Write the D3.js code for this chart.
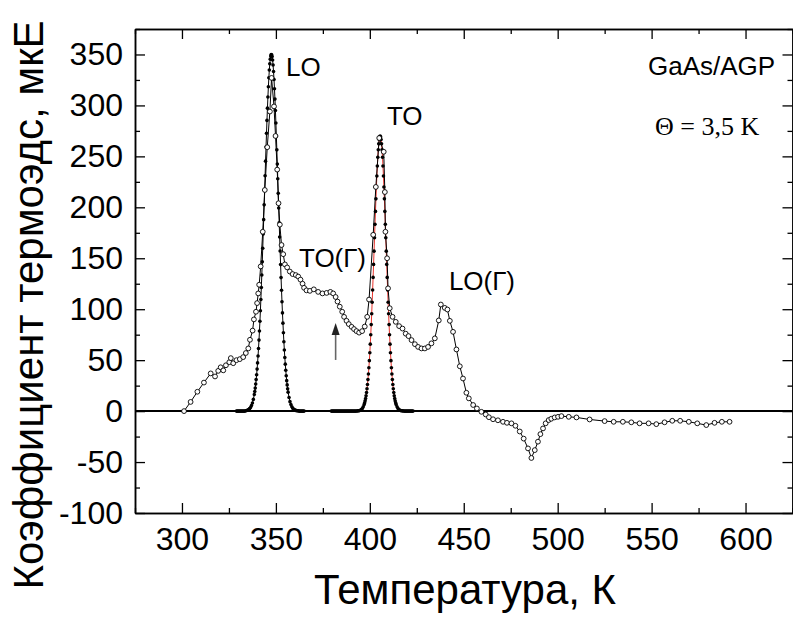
<!DOCTYPE html>
<html><head><meta charset="utf-8">
<script src="https://cdn.jsdelivr.net/npm/d3@7"></script>
<style>body{margin:0;background:#fff}svg{display:block}</style>
</head><body><svg id="c" width="793" height="618"></svg>
<script>
const xTicks=[300,350,400,450,500,550,600];
const xMinor=[275,325,375,425,475,525,575,625];
const yTicks=[-100,-50,0,50,100,150,200,250,300,350];
const yMinor=[-75,-25,25,75,125,175,225,275,325,375];
const xTitle="Температура, К";
const yTitle="Коэффициент термоэдс, мкЕ";

// experimental points (open circles): [T, value]
const expData=[[301.1,0],[304.6,9],[308.2,19],[311.7,28],[315.3,37],[317.6,34],[319.3,39.5],[320.6,43],[322,40],[323.4,45],[325.2,48],[326,52],[327.3,47],[329,50],[330.8,51],[332.6,53],[334,57],[335.3,61.5],[336.2,70],[337.6,79],[338.3,90],[339.4,97.5],[340,106],[340.6,115.5],[341.1,124],[341.9,142],[343,176],[344.1,217],[345.4,259],[346.8,294],[347.7,327],[349,299],[349.8,270],[350.7,237],[351.4,204],[352.1,183],[353,163],[353.9,154],[354.8,144],[356,141],[357.4,137],[358.9,134.5],[360.6,133.5],[361.9,132],[363.1,129],[364.2,125],[365,121],[366.3,118.5],[368.1,118],[370.2,119.5],[372.5,117],[374.8,115.5],[377,116],[379,117],[380.5,115.5],[381.8,112],[382.8,107.5],[384,102.5],[385.3,97.5],[386.3,92.5],[387.6,88.6],[388.8,85.4],[390.3,82.7],[391.6,80.5],[392.9,78.5],[394.3,77],[395.9,78.5],[397.3,83],[398.6,92.5],[399.6,109.5],[401.8,173],[403.2,220],[405,268],[407.4,254.5],[408,215],[408.3,176],[409.2,150],[409.7,120.5],[410.6,101],[412.1,92.5],[413.8,87.6],[415.6,83.4],[417.4,81],[419.1,76],[420.6,73.6],[422.2,69.7],[424,65.7],[425.7,63],[427.5,61.5],[429.3,61.5],[431,63],[432.8,66.5],[434.6,71.4],[436.7,89],[437.8,104.6],[439.9,101.3],[441.3,99.7],[442.6,88.6],[444.3,77.8],[446.1,60.5],[447.9,44],[449.6,32],[451.4,18],[452.7,12.5],[455,6],[457,2.6],[459.4,-0.7],[461.7,-3.3],[463.4,-6],[465.6,-8],[468.2,-9],[470.9,-10.5],[473,-11.5],[475.4,-12],[477.5,-14.4],[479.8,-20],[481.9,-27],[484.2,-36.6],[486,-46],[487.8,-38.3],[489.5,-30],[490.8,-22.6],[492.2,-17],[493.6,-12],[495.2,-8.8],[496.6,-7.5],[498.4,-6.2],[500.2,-5.6],[502,-4.9],[505.9,-5.6],[510,-6.2],[517,-8.2],[525,-9.8],[529.8,-10.5],[534.7,-10.5],[539.2,-11],[543.6,-12],[548.4,-12],[552.5,-12.8],[556.9,-11],[561,-9.5],[565.2,-9.5],[569.8,-10.5],[574.3,-12],[579.1,-13.7],[583.5,-11.5],[587.4,-10.5],[591.5,-10.5]];

// LO peak fit (filled dots)
const loFit=[[329,0],[329.5,0],[330,0],[330.5,0],[331,0],[331.5,0],[332,0],[332.5,0],[333,0],[333.5,0],[334,0.3],[334.5,0.6],[335,1],[335.5,1.6],[336,2.4],[336.5,3.6],[337,5.4],[337.5,8],[338,11.5],[338.5,16.3],[338.75,19.2],[339,22.6],[339.25,26.5],[339.5,30.9],[339.75,35.7],[340,41.2],[340.25,47.3],[340.5,54.1],[340.75,61.5],[341,69.7],[341.25,78.6],[341.5,88.2],[341.75,98.5],[342,109.6],[342.25,121.3],[342.5,133.6],[342.75,146.5],[343,159.9],[343.25,173.8],[343.5,187.9],[343.75,202.4],[344,216.6],[344.25,231],[344.5,245.3],[344.75,259.1],[345,272.6],[345.25,285.3],[345.5,297.3],[345.75,308.3],[346,318.3],[346.25,327.2],[346.5,334.7],[346.75,340.8],[347,345.4],[347.25,348.4],[347.5,349.9],[347.75,349.7],[348,347.9],[348.25,344.6],[348.5,339.7],[348.75,333.3],[349,325.5],[349.25,316.4],[349.5,306.2],[349.75,295],[350,282.8],[350.25,269.9],[350.5,256.4],[350.75,242.4],[351,228.1],[351.25,213.7],[351.5,199.3],[351.75,184.9],[352,170.9],[352.25,157.1],[352.5,143.8],[352.75,131],[353,118.6],[353.25,107.3],[353.5,96.4],[353.75,86.3],[354,76.9],[354.25,68],[354.5,59.9],[354.75,52.6],[355,46.1],[355.25,40.1],[355.5,34.7],[355.75,29.9],[356,25.7],[356.25,21.9],[356.5,18.6],[357,13.3],[357.5,9.3],[358,6.4],[358.5,4.3],[359,2.8],[359.5,1.8],[360,1.2],[360.5,0.7],[361,0.5],[361.5,0.3],[362,0.2],[362.5,0],[363,0],[363.5,0],[364,0],[364.5,0],[365,0]];

// TO peak fit (filled dots + red line)
const toFit=[[379.5,0],[380,0],[380.5,0],[381,0],[381.5,0],[382,0],[382.5,0],[383,0],[383.5,0],[384,0],[384.5,0],[385,0],[385.5,0],[386,0],[386.5,0],[387,0],[387.5,0],[388,0],[388.5,0],[389,0],[389.5,0],[390,0],[390.5,0],[391,0],[391.5,0],[392,0],[392.5,0],[393,0.1],[393.5,0.2],[394,0.3],[394.5,0.5],[395,0.9],[395.5,1.6],[396,2.6],[396.5,4.2],[397,6.6],[397.25,8.2],[397.5,10.1],[397.75,12.4],[398,15.1],[398.25,18.2],[398.5,21.9],[398.75,26.1],[399,30.9],[399.25,36.4],[399.5,42.6],[399.75,49.5],[400,57.2],[400.25,65.7],[400.5,74.9],[400.75,84.9],[401,95.6],[401.25,106.9],[401.5,118.8],[401.75,131.2],[402,144],[402.25,157],[402.5,170.1],[402.75,183.3],[403,196],[403.25,208.3],[403.5,220],[403.75,230.7],[404,240.6],[404.25,249.2],[404.5,256.5],[404.75,262.3],[405,266.6],[405.25,269.1],[405.5,270],[405.75,269.1],[406,266.6],[406.25,262.3],[406.5,256.5],[406.75,249.2],[407,240.6],[407.25,230.7],[407.5,220],[407.75,208.3],[408,196],[408.25,183.3],[408.5,170.1],[408.75,157],[409,144],[409.25,131.2],[409.5,118.8],[409.75,106.9],[410,95.6],[410.25,84.9],[410.5,74.9],[410.75,65.7],[411,57.2],[411.25,49.5],[411.5,42.6],[411.75,36.4],[412,30.9],[412.25,26.1],[412.5,21.9],[412.75,18.2],[413,15.1],[413.25,12.4],[413.5,10.1],[413.75,8.2],[414,6.6],[414.5,4.2],[415,2.6],[415.5,1.6],[416,0.9],[416.5,0.5],[417,0.3],[417.5,0.2],[418,0.1],[418.5,0],[419,0],[419.5,0],[420,0],[420.5,0],[421,0],[421.5,0],[422,0],[422.5,0],[423,0]];

// annotations: [text, T, value]
const peakLabels=[["LO",355.4,328.9],["TO",409.1,280.8],["TO(Г)",362.3,141.4],["LO(Г)",442.1,118.9],["GaAs/AGP",548.1,329.9]];
const thetaLabel=["Θ = 3,5 K",551.8,271];
const arrowAt=[381.8,50.2,86.5];

const svg=d3.select("#c");
const SANS='"Liberation Sans", Arial, sans-serif';
const L=135,R=792.5,T=29,B=513;
const x=d3.scaleLinear().domain([275,625]).range([L,R]);
const y=d3.scaleLinear().domain([-100,375]).range([B,T]);

const g=svg.append("g");
const line=d3.line().x(d=>x(d[0])).y(d=>y(d[1]));
// zero line
g.append("line").attr("x1",L).attr("x2",R).attr("y1",y(0)).attr("y2",y(0)).attr("stroke","#000").attr("stroke-width",2);
// fit lines
g.append("path").datum(loFit).attr("d",line).attr("fill","none").attr("stroke","#000").attr("stroke-width",1);
g.append("path").datum(toFit).attr("d",line).attr("fill","none").attr("stroke","#e8342c").attr("stroke-width",1);
// fit dots
g.selectAll(".lod").data(loFit).join("circle").attr("cx",d=>x(d[0])).attr("cy",d=>y(d[1])).attr("r",1.8).attr("fill","#000");
g.selectAll(".tod").data(toFit).join("circle").attr("cx",d=>x(d[0])).attr("cy",d=>y(d[1])).attr("r",1.8).attr("fill","#000");
// experimental
g.append("path").datum(expData).attr("d",line).attr("fill","none").attr("stroke","#000").attr("stroke-width",1);
g.selectAll(".ex").data(expData).join("circle").attr("cx",d=>x(d[0])).attr("cy",d=>y(d[1])).attr("r",2.4).attr("fill","#fff").attr("stroke","#000").attr("stroke-width",0.9);

// arrow
const ax=x(arrowAt[0]);
g.append("line").attr("x1",ax).attr("x2",ax).attr("y1",y(arrowAt[1])).attr("y2",y(arrowAt[2])+8).attr("stroke","#666").attr("stroke-width",1.6);
g.append("path").attr("d",`M${ax},${y(arrowAt[2])} L${ax-4},${y(arrowAt[2])+12} L${ax+4},${y(arrowAt[2])+12} Z`).attr("fill","#222");

// axes
function styleAxis(sel){sel.select(".domain").attr("stroke","#000").attr("stroke-width",1.5);sel.selectAll(".tick line").attr("stroke","#000").attr("stroke-width",1.3);sel.selectAll("text").attr("font-family",SANS).attr("font-size",32).attr("fill","#000");}
const xb=svg.append("g").attr("transform",`translate(0,${B})`).call(d3.axisBottom(x).tickValues(xTicks).tickSize(-10).tickSizeOuter(0).tickPadding(14).tickFormat(d3.format("d")));
styleAxis(xb);
styleAxis(svg.append("g").attr("transform",`translate(0,${B})`).call(d3.axisBottom(x).tickValues(xMinor).tickSize(-5).tickSizeOuter(0).tickFormat("")));
styleAxis(svg.append("g").attr("transform",`translate(0,${T})`).call(d3.axisTop(x).tickValues(xTicks).tickSize(-10).tickSizeOuter(0).tickFormat("")));
styleAxis(svg.append("g").attr("transform",`translate(0,${T})`).call(d3.axisTop(x).tickValues(xMinor).tickSize(-5).tickSizeOuter(0).tickFormat("")));
const yl=svg.append("g").attr("transform",`translate(${L},0)`).call(d3.axisLeft(y).tickValues(yTicks).tickSize(-10).tickSizeOuter(0).tickPadding(12).tickFormat(d3.format("d")));
styleAxis(yl);
yl.selectAll("text").text(d=>d<0?"-"+Math.abs(d):d);
styleAxis(svg.append("g").attr("transform",`translate(${L},0)`).call(d3.axisLeft(y).tickValues(yMinor).tickSize(-5).tickSizeOuter(0).tickFormat("")));
styleAxis(svg.append("g").attr("transform",`translate(${R},0)`).call(d3.axisRight(y).tickValues(yTicks).tickSize(-10).tickSizeOuter(0).tickFormat("")));
styleAxis(svg.append("g").attr("transform",`translate(${R},0)`).call(d3.axisRight(y).tickValues(yMinor).tickSize(-5).tickSizeOuter(0).tickFormat("")));

// titles
svg.append("text").attr("x",465).attr("y",604).attr("text-anchor","middle").attr("font-family",SANS).attr("font-size",42).text(xTitle);
svg.append("text").attr("transform","translate(43,305) rotate(-90)").attr("text-anchor","middle").attr("font-family",SANS).attr("font-size",42).text(yTitle);

// annotations
svg.selectAll(".pl").data(peakLabels).join("text").attr("x",d=>x(d[1])).attr("y",d=>y(d[2])).attr("font-family",SANS).attr("font-size",26).text(d=>d[0]);
svg.append("text").attr("x",x(thetaLabel[1])).attr("y",y(thetaLabel[2])).attr("font-family",'"Liberation Serif", "Times New Roman", serif').attr("font-size",26).text(thetaLabel[0]);
</script></body></html>
